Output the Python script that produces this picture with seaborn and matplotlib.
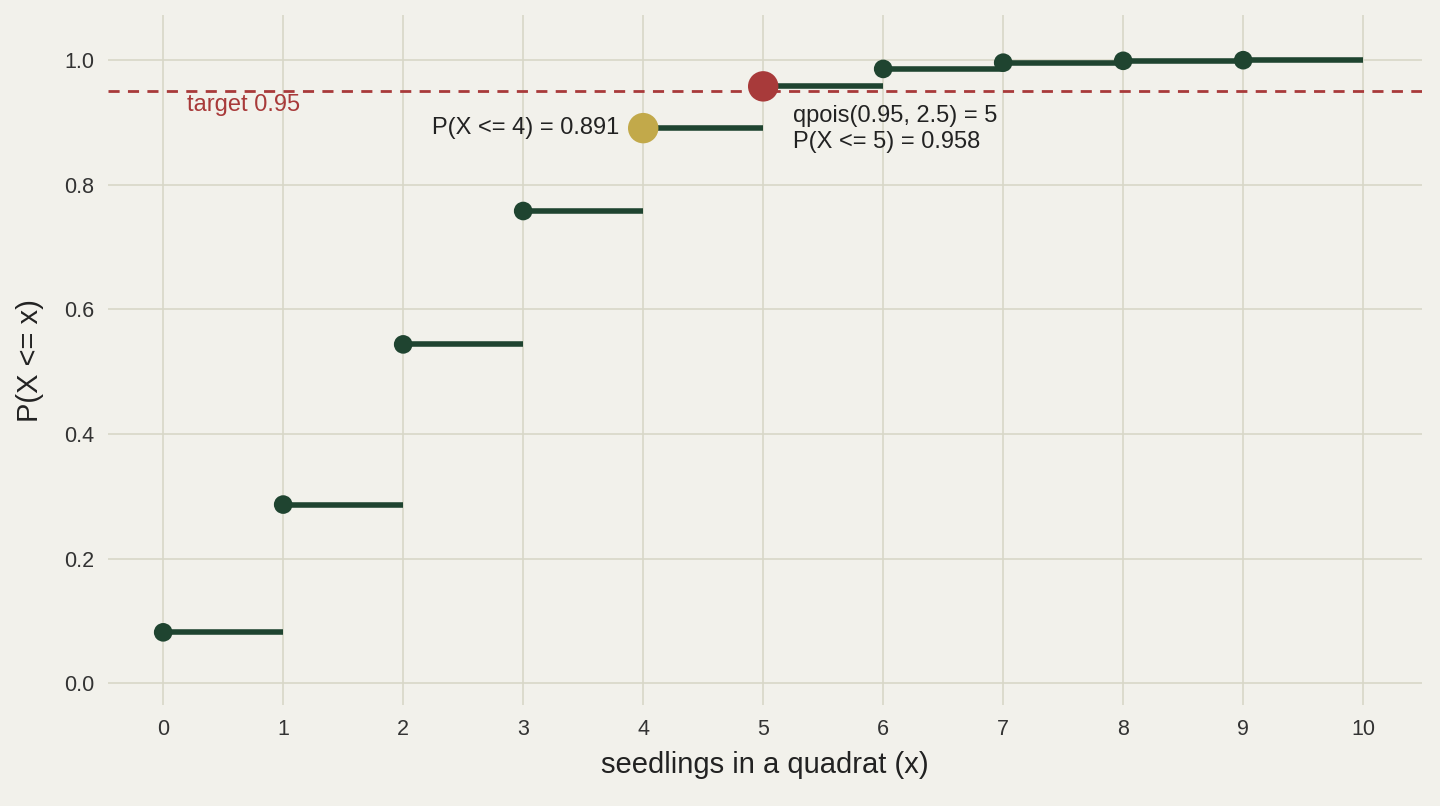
import matplotlib
matplotlib.use("Agg")
import matplotlib.pyplot as plt
import seaborn as sns
import pandas as pd

x_vals = [0, 1, 2, 3, 4, 5, 6, 7, 8, 9]
cdf_vals = [0.082, 0.287, 0.544, 0.758, 0.891, 0.958, 0.986, 0.996, 0.999, 1.000]
target = 0.95

bg = "#F2F1EB"
green = "#1F4430"
red = "#A83A3A"
gold = "#C2A94A"

sns.set_theme(style="whitegrid")
plt.rcParams['font.family'] = ['Liberation Sans', 'DejaVu Sans']
fig = plt.figure(figsize=(14.4, 8.06), dpi=100, facecolor=bg)
ax = fig.add_axes([0.075, 0.125, 0.9125, 0.856])
ax.set_facecolor(bg)
for s in ax.spines.values():
    s.set_visible(False)
ax.grid(True, color="#D8D7C8", linewidth=1.2)

df = pd.DataFrame({"x": x_vals, "p": cdf_vals})
ax.hlines(df["p"], df["x"], df["x"] + 1, color=green, linewidth=4, zorder=2)
ax.axhline(target, color=red, linestyle=(0, (4, 3)), linewidth=2, zorder=1)

others = df[~df["x"].isin([4, 5])]
sns.scatterplot(data=others, x="x", y="p", color=green, s=180, ax=ax, zorder=3, edgecolor="none")
sns.scatterplot(data=df[df["x"] == 4], x="x", y="p", color=gold, s=480, ax=ax, zorder=3, edgecolor="none")
sns.scatterplot(data=df[df["x"] == 5], x="x", y="p", color=red, s=480, ax=ax, zorder=3, edgecolor="none")

ax.text(0.2, 0.945, "target 0.95", color=red, fontsize=17, va="top", ha="left")
ax.text(3.8, cdf_vals[4], f"P(X <= 4) = {cdf_vals[4]:.3f}", fontsize=17, va="center", ha="right", color="#222222")
ax.text(5.25, 0.889, "qpois(0.95, 2.5) = 5\nP(X <= 5) = 0.958", fontsize=17, va="center", ha="left", color="#222222", linespacing=1.25)

ax.set_xlim(-0.46, 10.49)
ax.set_ylim(-0.035, 1.072)
ax.set_xticks(range(0, 11))
ax.set_yticks([0, 0.2, 0.4, 0.6, 0.8, 1.0])
ax.set_yticklabels(["0.0", "0.2", "0.4", "0.6", "0.8", "1.0"])
ax.tick_params(labelsize=15.5, colors="#333333", length=0, pad=10)
ax.set_xlabel("seedlings in a quadrat (x)", fontsize=21, color="#222222", labelpad=8)
ax.set_ylabel("P(X <= x)", fontsize=21, color="#222222", labelpad=14)
fig.savefig("out.png", dpi=100, facecolor=bg)
